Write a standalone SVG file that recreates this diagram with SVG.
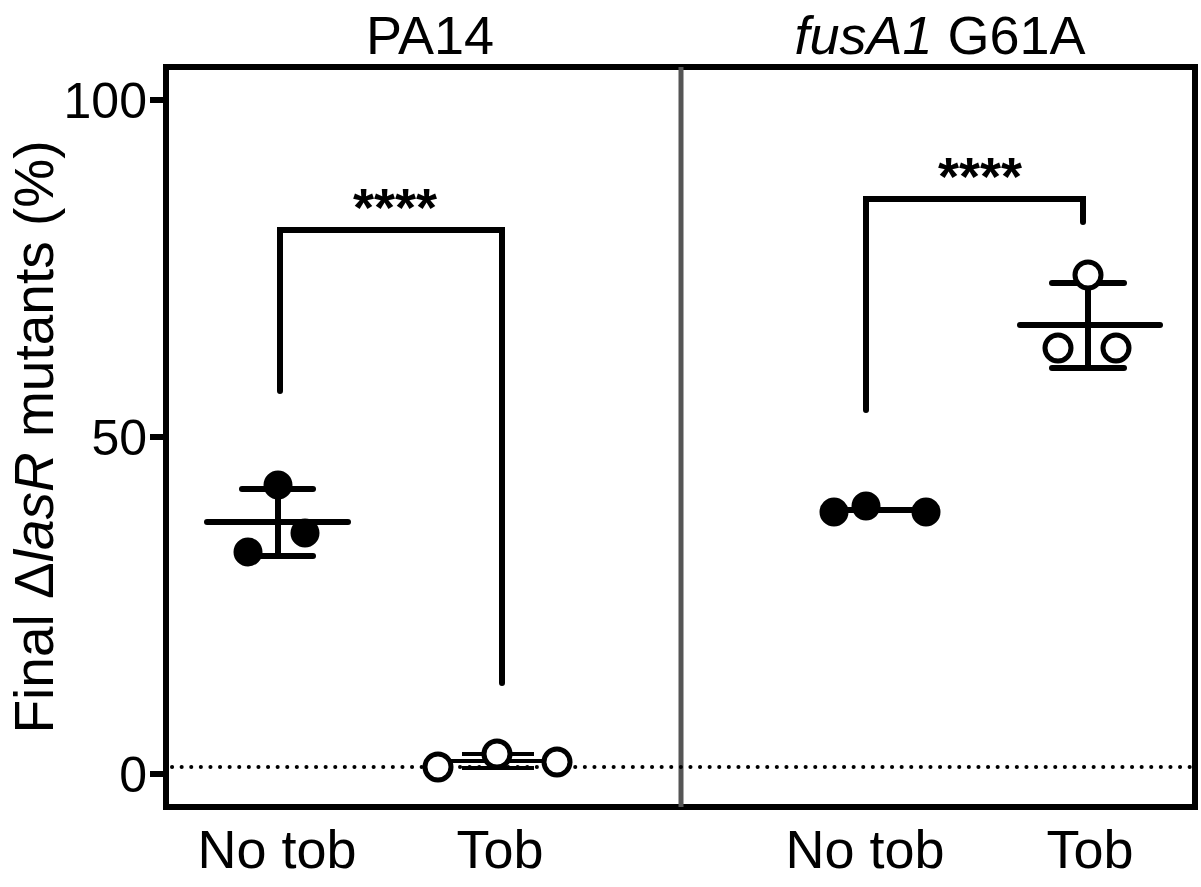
<svg xmlns="http://www.w3.org/2000/svg" width="1201" height="887" viewBox="0 0 1201 887">
<style>
text{font-family:"Liberation Sans",Arial,sans-serif;fill:#000}
.ln{stroke:#000;stroke-width:6;fill:none;stroke-linecap:round}
.f{fill:#000;stroke:#000;stroke-width:5}
.o{fill:#fff;stroke:#000;stroke-width:5}
.tk{font-size:50px;text-anchor:end}
.xl{font-size:54px;text-anchor:middle}
</style>
<rect width="1201" height="887" fill="#fff"/>
<g id="axes">
<rect x="166" y="67" width="1029" height="740" fill="none" stroke="#000" stroke-width="6"/>
<line x1="681" y1="67" x2="681" y2="807" stroke="#555" stroke-width="5"/>
<line x1="150" y1="100" x2="166" y2="100" stroke="#000" stroke-width="6"/>
<line x1="150" y1="437" x2="166" y2="437" stroke="#000" stroke-width="6"/>
<line x1="150" y1="774" x2="166" y2="774" stroke="#000" stroke-width="6"/>
<text class="tk" x="147" y="118">100</text>
<text class="tk" x="147" y="455">50</text>
<text class="tk" x="147" y="792">0</text>
<line x1="172" y1="767" x2="1192" y2="767" stroke="#000" stroke-width="4" stroke-dasharray="0.1 9.5" stroke-linecap="round"/>
<text x="34" y="437" font-size="55" text-anchor="middle" transform="rotate(-90 34 437)" dy="19">Final Δ<tspan font-style="italic">lasR</tspan> mutants (%)</text>
<text x="430" y="54" font-size="54" text-anchor="middle">PA14</text>
<text x="940" y="54" font-size="54" text-anchor="middle"><tspan font-style="italic">fusA1</tspan> G61A</text>
<text class="xl" x="277" y="868">No tob</text>
<text class="xl" x="500" y="868">Tob</text>
<text class="xl" x="865" y="868">No tob</text>
<text class="xl" x="1090" y="868">Tob</text>
</g>
<g id="connectors">
<polyline class="ln" points="280,391 280,230 502,230 502,683"/>
<polyline class="ln" points="866,410 866,199 1083,199 1083,222"/>
</g>
<g id="stars">
<text x="395" y="226" font-size="54" font-weight="bold" text-anchor="middle">****</text>
<text x="980" y="195" font-size="54" font-weight="bold" text-anchor="middle">****</text>
</g>
<g id="pa14-notob">
<line class="ln" x1="207" y1="522" x2="348" y2="522"/>
<line class="ln" x1="242" y1="489" x2="313" y2="489"/>
<line class="ln" x1="242" y1="556" x2="313" y2="556"/>
<line class="ln" x1="278" y1="489" x2="278" y2="556"/>
<circle class="f" cx="248" cy="552" r="12"/>
<circle class="f" cx="278" cy="485" r="12"/>
<circle class="f" cx="305" cy="533" r="12"/>
</g>
<g id="pa14-tob">
<line stroke="#000" stroke-width="4" x1="440" y1="761" x2="555" y2="761"/>
<line stroke="#000" stroke-width="4" x1="462" y1="754" x2="534" y2="754"/>
<line stroke="#000" stroke-width="4" x1="462" y1="768" x2="534" y2="768"/>
<circle class="o" cx="438" cy="767" r="13"/>
<circle class="o" cx="497" cy="754" r="13"/>
<circle class="o" cx="557" cy="762" r="13"/>
</g>
<g id="fus-notob">
<line class="ln" x1="834" y1="510" x2="924" y2="510"/>
<circle class="f" cx="834" cy="512" r="12"/>
<circle class="f" cx="866" cy="506" r="12"/>
<circle class="f" cx="926" cy="512" r="12"/>
</g>
<g id="fus-tob">
<line class="ln" x1="1020" y1="325" x2="1160" y2="325"/>
<line class="ln" x1="1052" y1="283" x2="1124" y2="283"/>
<line class="ln" x1="1052" y1="368" x2="1124" y2="368"/>
<line class="ln" x1="1088" y1="283" x2="1088" y2="368"/>
<circle class="o" cx="1088" cy="275" r="13"/>
<circle class="o" cx="1058" cy="348" r="13"/>
<circle class="o" cx="1116" cy="348" r="13"/>
</g>
</svg>
